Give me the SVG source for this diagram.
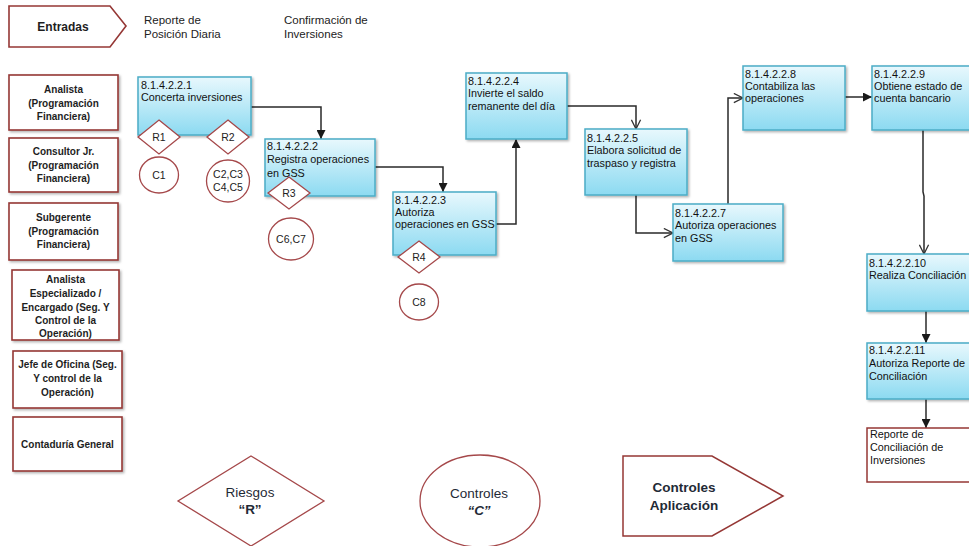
<svg xmlns="http://www.w3.org/2000/svg" width="969" height="546" viewBox="0 0 969 546">
<defs>
<linearGradient id="blue" x1="0" y1="0" x2="0" y2="1">
<stop offset="0" stop-color="#E8F8FD"/>
<stop offset="1" stop-color="#8CDAF1"/>
</linearGradient>
<filter id="sh" x="-10%" y="-10%" width="130%" height="130%">
<feDropShadow dx="1.5" dy="1.5" stdDeviation="1" flood-color="#000" flood-opacity="0.3"/>
</filter>
<marker id="fa" viewBox="0 0 10 10" refX="10" refY="5" markerWidth="9" markerHeight="9" markerUnits="userSpaceOnUse" orient="auto">
<path d="M0,0 L10,5 L0,10 Z" fill="#1a1a1a"/>
</marker>
<marker id="va" viewBox="0 0 12 12" refX="11" refY="6" markerWidth="11" markerHeight="11" markerUnits="userSpaceOnUse" orient="auto">
<path d="M1,1 L11,6 L1,11" fill="none" stroke="#333" stroke-width="1.4"/>
</marker>
</defs>
<style>
.lane{fill:#fff;stroke:#953735;stroke-width:1.6;filter:url(#sh)}
.lt{font-family:"Liberation Sans",Arial,sans-serif;font-size:10px;font-weight:bold;fill:#1e1e1e;text-anchor:middle}
.box{fill:url(#blue);stroke:#4BACC6;stroke-width:1.5;filter:url(#sh)}
.bt{font-family:"Liberation Sans",Arial,sans-serif;font-size:10.8px;fill:#111}
.rk{fill:#fff;stroke:#A5484A;stroke-width:1.3}
.rt{font-family:"Liberation Sans",Arial,sans-serif;font-size:10.5px;fill:#222;text-anchor:middle}
.top{font-family:"Liberation Sans",Arial,sans-serif;font-size:11.5px;fill:#222}
.leg{font-family:"Liberation Sans",Arial,sans-serif;font-size:13.5px;fill:#1f2a36;text-anchor:middle}
.con{fill:none;stroke:#2a2a2a;stroke-width:1.5}
</style>
<rect width="969" height="546" fill="#fff"/>

<g id="entradas">
<path d="M9,6 H110 L126,26 L110,47 H9 Z" fill="#fff" stroke="#953735" stroke-width="1.6"/>
<text x="63" y="31" class="lt" style="font-size:12px">Entradas</text>
</g>
<g id="in-reporte">
<text class="top" x="144" y="24">Reporte de</text>
<text class="top" x="144" y="38">Posición Diaria</text>
</g>
<g id="in-confirmacion">
<text class="top" x="284" y="24">Confirmación de</text>
<text class="top" x="284" y="38">Inversiones</text>
</g>

<g id="lane-analista">
<rect class="lane" x="9" y="75" width="109" height="55"/>
<text class="lt" x="63.5" y="93">Analista</text>
<text class="lt" x="63.5" y="107">(Programación</text>
<text class="lt" x="63.5" y="120">Financiera)</text>
</g>
<g id="lane-consultor">
<rect class="lane" x="9" y="138" width="109" height="54"/>
<text class="lt" x="63.5" y="155">Consultor Jr.</text>
<text class="lt" x="63.5" y="169">(Programación</text>
<text class="lt" x="63.5" y="182">Financiera)</text>
</g>
<g id="lane-subgerente">
<rect class="lane" x="9" y="203" width="109" height="57"/>
<text class="lt" x="63.5" y="221">Subgerente</text>
<text class="lt" x="63.5" y="235">(Programación</text>
<text class="lt" x="63.5" y="248">Financiera)</text>
</g>
<g id="lane-especializado">
<rect class="lane" x="12" y="270" width="107" height="70"/>
<text class="lt" x="65.5" y="283">Analista</text>
<text class="lt" x="65.5" y="297">Especializado /</text>
<text class="lt" x="65.5" y="311">Encargado (Seg. Y</text>
<text class="lt" x="65.5" y="324">Control de la</text>
<text class="lt" x="65.5" y="337">Operación)</text>
</g>
<g id="lane-jefe">
<rect class="lane" x="13" y="351" width="109" height="57"/>
<text class="lt" x="67.5" y="368">Jefe de Oficina (Seg.</text>
<text class="lt" x="67.5" y="382">Y control de la</text>
<text class="lt" x="67.5" y="396">Operación)</text>
</g>
<g id="lane-contaduria">
<rect class="lane" x="13" y="417" width="109" height="54"/>
<text class="lt" x="67.5" y="448">Contaduría General</text>
</g>

<g id="connectors">
<path class="con" d="M251,107 H321 V139" marker-end="url(#fa)"/>
<path class="con" d="M375,167 H443 V192" marker-end="url(#fa)"/>
<path class="con" d="M496,224 H516 V139" marker-end="url(#fa)"/>
<path class="con" d="M567,106 H636 V129" marker-end="url(#va)"/>
<path class="con" d="M636,195 V233 H673" marker-end="url(#va)"/>
<path class="con" d="M728,204 V98 H743" marker-end="url(#va)"/>
<path class="con" d="M845,97 H872" marker-end="url(#fa)"/>
<path class="con" d="M923,130 V192 L924,196 V254" stroke="#555" stroke-width="2" marker-end="url(#va)"/>
<path class="con" d="M926,311 V343" marker-end="url(#fa)"/>
<path class="con" d="M926,399 V428" marker-end="url(#fa)"/>
</g>

<g id="p1">
<rect class="box" x="138" y="77" width="113" height="58"/>
<text class="bt" x="141" y="89">8.1.4.2.2.1</text>
<text class="bt" x="141" y="101">Concerta inversiones</text>
</g>
<g id="p2">
<rect class="box" x="265" y="139" width="110" height="57"/>
<text class="bt" x="267" y="150">8.1.4.2.2.2</text>
<text class="bt" x="267" y="163">Registra operaciones</text>
<text class="bt" x="267" y="177">en GSS</text>
</g>
<g id="p3">
<rect class="box" x="393" y="192" width="103" height="63"/>
<text class="bt" x="395" y="204">8.1.4.2.2.3</text>
<text class="bt" x="395" y="216">Autoriza</text>
<text class="bt" x="395" y="228">operaciones en GSS</text>
</g>
<g id="p4">
<rect class="box" x="466" y="73" width="101" height="66"/>
<text class="bt" x="468" y="85">8.1.4.2.2.4</text>
<text class="bt" x="468" y="97">Invierte el saldo</text>
<text class="bt" x="468" y="110">remanente del día</text>
</g>
<g id="p5">
<rect class="box" x="585" y="129" width="102" height="66"/>
<text class="bt" x="587" y="142">8.1.4.2.2.5</text>
<text class="bt" x="587" y="154">Elabora solicitud de</text>
<text class="bt" x="587" y="167">traspaso y registra</text>
</g>
<g id="p7">
<rect class="box" x="673" y="204" width="110" height="57"/>
<text class="bt" x="675" y="217">8.1.4.2.2.7</text>
<text class="bt" x="675" y="229">Autoriza operaciones</text>
<text class="bt" x="675" y="242">en GSS</text>
</g>
<g id="p8">
<rect class="box" x="743" y="66" width="102" height="64"/>
<text class="bt" x="745" y="78">8.1.4.2.2.8</text>
<text class="bt" x="745" y="90">Contabiliza las</text>
<text class="bt" x="745" y="102">operaciones</text>
</g>
<g id="p9">
<rect class="box" x="872" y="66" width="110" height="64"/>
<text class="bt" x="874" y="78">8.1.4.2.2.9</text>
<text class="bt" x="874" y="90">Obtiene estado de</text>
<text class="bt" x="874" y="102">cuenta bancario</text>
</g>
<g id="p10">
<rect class="box" x="867" y="254" width="115" height="57"/>
<text class="bt" x="869" y="267">8.1.4.2.2.10</text>
<text class="bt" x="869" y="279">Realiza Conciliación</text>
</g>
<g id="p11">
<rect class="box" x="867" y="343" width="115" height="56"/>
<text class="bt" x="869" y="354">8.1.4.2.2.11</text>
<text class="bt" x="869" y="367">Autoriza Reporte de</text>
<text class="bt" x="869" y="380">Conciliación</text>
</g>
<g id="salida-reporte">
<rect x="867" y="428" width="115" height="54" fill="#fff" stroke="#953735" stroke-width="1.5"/>
<text class="bt" x="870" y="438">Reporte de</text>
<text class="bt" x="870" y="451">Conciliación de</text>
<text class="bt" x="870" y="464">Inversiones</text>
</g>

<g id="r1">
<path class="rk" d="M159,120 L180,137 L159,154 L138,137 Z"/>
<text class="rt" x="159" y="141">R1</text>
</g>
<g id="r2">
<path class="rk" d="M228,120 L249,137 L228,154 L207,137 Z"/>
<text class="rt" x="228" y="141">R2</text>
</g>
<g id="c1">
<ellipse class="rk" cx="159" cy="175" rx="19.5" ry="18"/>
<text class="rt" x="159" y="179">C1</text>
</g>
<g id="c2c5">
<ellipse class="rk" cx="228" cy="181" rx="21.5" ry="21"/>
<text class="rt" x="228" y="178">C2,C3</text>
<text class="rt" x="228" y="191">C4,C5</text>
</g>
<g id="r3">
<path class="rk" d="M289,177 L310,193 L289,209 L268,193 Z"/>
<text class="rt" x="289" y="197">R3</text>
</g>
<g id="c6c7">
<ellipse class="rk" cx="291" cy="239" rx="22.5" ry="21"/>
<text class="rt" x="291" y="243">C6,C7</text>
</g>
<g id="r4">
<path class="rk" d="M419,241 L440,257 L419,273 L398,257 Z"/>
<text class="rt" x="419" y="261">R4</text>
</g>
<g id="c8">
<ellipse class="rk" cx="419" cy="302" rx="19.5" ry="18"/>
<text class="rt" x="419" y="306">C8</text>
</g>

<g id="leg-riesgos">
<path d="M251,456 L324,501 L251,546 L178,501 Z" fill="#fff" stroke="#A5484A" stroke-width="1.3"/>
<text class="leg" x="250" y="497">Riesgos</text>
<text class="leg" x="250" y="514" font-weight="bold">“R”</text>
</g>
<g id="leg-controles">
<ellipse cx="480" cy="501" rx="60" ry="46" fill="#fff" stroke="#A5484A" stroke-width="1.3"/>
<text class="leg" x="479" y="498">Controles</text>
<text class="leg" x="479" y="515" font-weight="bold" font-style="italic">“C”</text>
</g>
<g id="leg-aplicacion">
<path d="M623,456 H712 L783,496 L712,536 H623 Z" fill="#fff" stroke="#953735" stroke-width="1.5"/>
<text class="leg" x="684" y="492" font-weight="bold">Controles</text>
<text class="leg" x="684" y="510" font-weight="bold">Aplicación</text>
</g>
</svg>
